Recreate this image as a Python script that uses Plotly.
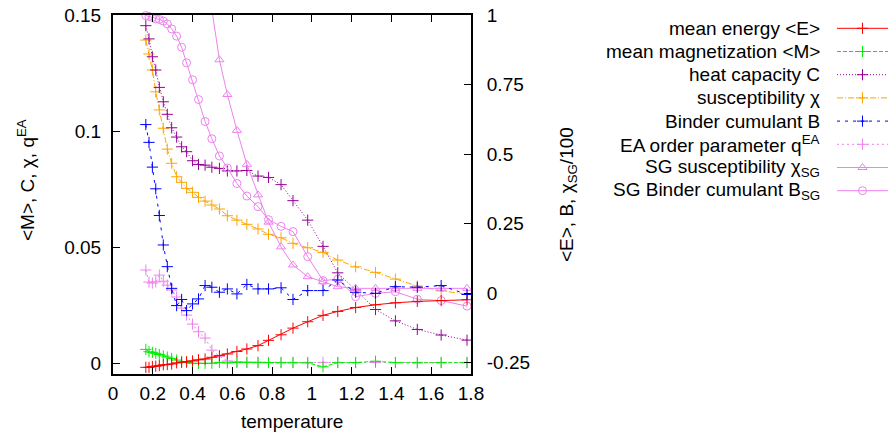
import plotly.graph_objects as go

# Simulation results versus temperature
temperature = [0.165, 0.181, 0.198, 0.215, 0.233, 0.253, 0.273, 0.295, 0.320, 0.345,
               0.370, 0.400, 0.430, 0.463, 0.497, 0.535, 0.575, 0.623, 0.673, 0.729,
               0.782, 0.845, 0.905, 0.979, 1.056, 1.13, 1.22, 1.32, 1.42, 1.53,
               1.65, 1.78]

# right axis quantities
energy = [-0.267, -0.267, -0.264, -0.263, -0.261, -0.258, -0.257, -0.255, -0.251, -0.249,
          -0.247, -0.244, -0.240, -0.237, -0.231, -0.225, -0.219, -0.210, -0.201, -0.189,
          -0.170, -0.150, -0.126, -0.103, -0.080, -0.066, -0.052, -0.042, -0.035, -0.030,
          -0.027, -0.024]
binder = [0.606, 0.542, 0.453, 0.375, 0.279, 0.173, 0.095, 0.017, -0.045, -0.023,
          -0.063, -0.039, -0.021, 0.027, 0.021, 0.003, 0.015, -0.003, 0.031, 0.015,
          0.015, 0.019, -0.023, 0.009, 0.009, 0.047, 0.003, -0.001, 0.023, 0.021,
          0.027, -0.005]
# chi_SG / 100 is off the scale below T = 0.497
temperature_sg = temperature[14:]
chi_sg = [1.02, 0.839, 0.714, 0.585, 0.463, 0.353, 0.255, 0.166, 0.101, 0.059,
          0.041, 0.023, 0.017, 0.017, 0.017, 0.017, 0.017, 0.017]
binder_sg = [0.998, 0.995, 0.991, 0.986, 0.984, 0.978, 0.968, 0.950, 0.924, 0.884,
             0.828, 0.767, 0.696, 0.617, 0.555, 0.493, 0.450, 0.394, 0.349, 0.311,
             0.264, 0.240, 0.221, 0.131, 0.045, 0.050, -0.013, -0.001, 0.005, -0.022,
             -0.027, -0.047]

# left axis quantities
magnetization = [0.0059, 0.0049, 0.0046, 0.0042, 0.0037, 0.0031, 0.0026, 0.0020, 0.0013, 0.0006,
                 0.0003, -0.0001, -0.0001, -0.0001, -0.0001, 0.0003, 0.0001, 0.0003, 0.0003, 0.0002,
                 0.0002, 0.0002, 0.0002, 0.0001, -0.0016, 0.0002, 0.0002, 0.0008, 0.0002, 0.0001,
                 0.0002, 0.0002]
heat_capacity = [0.1454, 0.1397, 0.1320, 0.1263, 0.1188, 0.1126, 0.1072, 0.1014, 0.0974, 0.0932,
                 0.0911, 0.0872, 0.0856, 0.0853, 0.0844, 0.0839, 0.0828, 0.0828, 0.0830, 0.0806,
                 0.0800, 0.0769, 0.0700, 0.0616, 0.0503, 0.0389, 0.0315, 0.0231, 0.0182, 0.0145,
                 0.0121, 0.0099]
susceptibility = [0.1392, 0.1332, 0.1263, 0.1169, 0.1091, 0.1012, 0.0922, 0.0861, 0.0803, 0.0779,
                  0.0753, 0.0736, 0.0714, 0.0698, 0.0681, 0.0664, 0.0635, 0.0616, 0.0598, 0.0578,
                  0.0555, 0.0540, 0.0516, 0.0497, 0.0477, 0.0444, 0.0415, 0.0391, 0.0362, 0.0332,
                  0.0311, 0.0297]
q_ea = [0.0401, 0.0349, 0.0345, 0.0350, 0.0379, 0.0353, 0.0336, 0.0315, 0.0285, 0.0237,
        0.0207, 0.0168, 0.0135, 0.0108, 0.0056, 0.0030, 0.0009, 0.0006, 0.0004, 0.0004,
        0.0003, 0.0003, 0.0003, 0.0003, 0.0003, 0.0003, 0.0003, 0.0003, 0.0003, 0.0003,
        0.0003, 0.0003]

x_ticks = [0, 0.2, 0.4, 0.6, 0.8, 1, 1.2, 1.4, 1.6, 1.8]
x_tick_text = ["0", "0.2", "0.4", "0.6", "0.8", "1", "1.2", "1.4", "1.6", "1.8"]
left_ticks = [0, 0.05, 0.1, 0.15]
left_tick_text = ["0", "0.05", "0.1", "0.15"]
right_ticks = [-0.25, 0, 0.25, 0.5, 0.75, 1]
right_tick_text = ["-0.25", "0", "0.25", "0.5", "0.75", "1"]

legend_labels = [
    "mean energy &lt;E&gt;",
    "mean magnetization &lt;M&gt;",
    "heat capacity C",
    "susceptibility χ",
    "Binder cumulant B",
    "EA order parameter q<sup>EA</sup>",
    "SG susceptibility χ<sub>SG</sub>",
    "SG Binder cumulant B<sub>SG</sub>",
]

W, H = 890, 433
FONT = "Liberation Sans, Arial, sans-serif"
FS = 19

# plot frame in pixels
PX0, PX1, PY0, PY1 = 113, 471, 15, 374

VIOLET = "#ee82ee"
styles = [
    # (color, dash, symbol, axis)
    ("#ff0000", "solid", "cross-thin", "y2"),
    ("#00ee00", "4px,2px", "cross-thin", "y"),
    ("#960096", "1px,2px", "cross-thin", "y"),
    ("#ffa500", "6px,2px,1px,2px", "cross-thin", "y"),
    ("#0000ff", "3px,5px", "cross-thin", "y2"),
    (VIOLET, "2px,3px", "cross-thin", "y"),
    (VIOLET, "solid", "triangle-up-open", "y2"),
    (VIOLET, "solid", "circle-open", "y2"),
]
series = [
    (temperature, energy),
    (temperature, magnetization),
    (temperature, heat_capacity),
    (temperature, susceptibility),
    (temperature, binder),
    (temperature, q_ea),
    (temperature_sg, chi_sg),
    (temperature, binder_sg),
]

fig = go.Figure()

# draw order: violet first so the others sit on top
order = [7, 6, 5, 0, 1, 3, 4, 2]
for i in order:
    color, dash, symbol, axis = styles[i]
    xs, ys = series[i]
    fig.add_trace(go.Scatter(
        x=xs, y=ys, yaxis=axis, mode="lines+markers",
        line=dict(color=color, width=1, dash=dash),
        marker=dict(symbol=symbol, size=8, color=color,
                    line=dict(color=color, width=1)),
        showlegend=False, hoverinfo="skip",
        cliponaxis=(i != 7),
    ))

# legend samples on their own small axes, one row per series
for i, (color, dash, symbol, axis) in enumerate(styles):
    fig.add_trace(go.Scatter(
        x=[0, 1], y=[i, i], xaxis="x3", yaxis="y3", mode="lines",
        line=dict(color=color, width=1, dash=dash),
        showlegend=False, hoverinfo="skip"))
    fig.add_trace(go.Scatter(
        x=[0.5], y=[i], xaxis="x3", yaxis="y3", mode="markers",
        marker=dict(symbol=symbol, size=8, color=color,
                    line=dict(color=color, width=1)),
        showlegend=False, hoverinfo="skip"))

tickfont = dict(family=FONT, size=FS, color="black")


def fx(px):
    return px / W


def fy(py):
    return 1 - py / H


ROW0, ROWSTEP = 28.3, 23.2
leg_top = ROW0 - ROWSTEP / 2
leg_bot = ROW0 + ROWSTEP * 7.5

fig.update_layout(
    width=W, height=H,
    margin=dict(l=0, r=0, t=0, b=0, autoexpand=False),
    paper_bgcolor="white", plot_bgcolor="white",
    font=dict(family=FONT, size=FS, color="black"),
    xaxis=dict(
        domain=[fx(PX0), fx(PX1)], range=[0, 1.8], automargin=False,
        tickvals=x_ticks, ticktext=x_tick_text,
        ticks="inside", ticklen=7, tickwidth=1, tickcolor="black",
        showline=True, linecolor="black", linewidth=2, mirror="ticks",
        showgrid=False, zeroline=False, tickfont=tickfont,
        ticklabelstandoff=1,
    ),
    yaxis=dict(
        domain=[fy(PY1), fy(PY0)], range=[-0.0047, 0.15], automargin=False,
        tickvals=left_ticks, ticktext=left_tick_text,
        ticks="inside", ticklen=7, tickwidth=1, tickcolor="black",
        showline=True, linecolor="black", linewidth=2,
        showgrid=False, zeroline=False, tickfont=tickfont,
        ticklabelstandoff=6,
    ),
    yaxis2=dict(
        overlaying="y", side="right", anchor="x", automargin=False,
        range=[-0.291, 1],
        tickvals=right_ticks, ticktext=right_tick_text,
        ticks="inside", ticklen=7, tickwidth=1, tickcolor="black",
        showline=True, linecolor="black", linewidth=2,
        showgrid=False, zeroline=False, tickfont=tickfont,
        ticklabelstandoff=10,
    ),
    xaxis3=dict(domain=[fx(837), fx(888)], range=[0, 1], anchor="y3",
                visible=False, fixedrange=True, automargin=False),
    yaxis3=dict(domain=[fy(leg_bot), fy(leg_top)], range=[7.5, -0.5], anchor="x3",
                visible=False, fixedrange=True, automargin=False),
)

annotations = []
for i, label in enumerate(legend_labels):
    annotations.append(dict(
        text=label, xref="paper", yref="y3", x=fx(822), y=i,
        xanchor="right", yanchor="middle", showarrow=False,
        font=dict(family=FONT, size=FS, color="black")))

annotations.append(dict(
    text="temperature", xref="paper", yref="paper",
    x=fx((PX0 + PX1) / 2), y=fy(421), xanchor="center", yanchor="middle",
    showarrow=False, font=dict(family=FONT, size=FS, color="black")))
annotations.append(dict(
    text="&lt;M&gt;, C, χ, q<sup>EA</sup>", xref="paper", yref="paper",
    x=fx(26), y=fy(180), xanchor="center", yanchor="middle", textangle=-90,
    showarrow=False, font=dict(family=FONT, size=FS, color="black")))
annotations.append(dict(
    text="&lt;E&gt;, B, χ<sub>SG</sub>/100", xref="paper", yref="paper",
    x=fx(568), y=fy(195), xanchor="center", yanchor="middle", textangle=-90,
    showarrow=False, font=dict(family=FONT, size=FS, color="black")))

fig.update_layout(annotations=annotations)

fig.write_html("out.html")
